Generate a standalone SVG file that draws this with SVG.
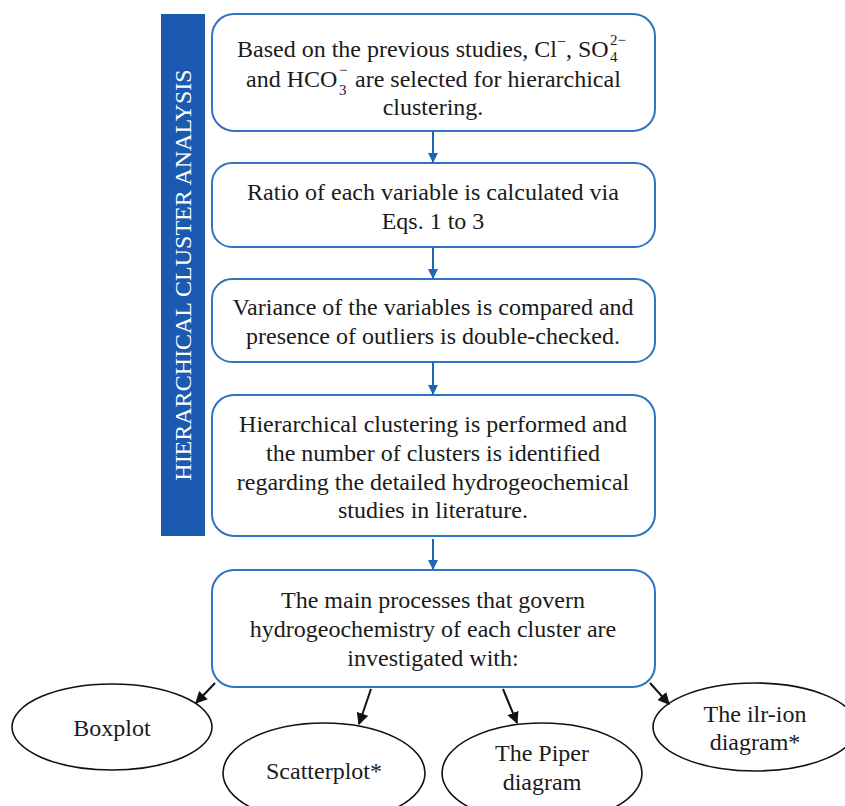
<svg xmlns="http://www.w3.org/2000/svg" width="845" height="806" viewBox="0 0 845 806">
<defs>
<style>
.box{fill:#fff;stroke:#2f74c0;stroke-width:2}
.ell{fill:#fff;stroke:#111;stroke-width:1.6}
.t{font-family:"Liberation Serif","Times New Roman",serif;font-size:24px;fill:#1a1a1a}
.c{text-anchor:middle}
.sc{font-family:"Liberation Serif","Times New Roman",serif;font-size:15px;fill:#1a1a1a}
.ba{stroke:#1f66b3;stroke-width:2;fill:none}
.ka{stroke:#111;stroke-width:2;fill:none}
</style>
<marker id="mb" viewBox="0 0 10 10" refX="9" refY="5" markerWidth="10" markerHeight="10" markerUnits="userSpaceOnUse" orient="auto"><path d="M0,0 L10,5 L0,10 z" fill="#1f66b3"/></marker>
<marker id="mk" viewBox="0 0 10 10" refX="9" refY="5" markerWidth="12" markerHeight="12" markerUnits="userSpaceOnUse" orient="auto"><path d="M0,0 L10,5 L0,10 z" fill="#111"/></marker>
</defs>
<rect width="845" height="806" fill="#fff"/>
<g id="sidebar">
<rect x="161" y="14" width="44" height="522" fill="#1b5aae"/>
<text class="t c" transform="translate(191,275) rotate(-90)" style="fill:#fff">HIERARCHICAL CLUSTER ANALYSIS</text>
</g>
<g id="box1">
<rect class="box" x="212" y="14" width="443" height="117" rx="22"/>
<text class="t" x="237" y="57">Based on the previous studies, Cl<tspan font-size="16" dy="-10">−</tspan><tspan dy="10">, SO</tspan></text>
<text class="sc" x="610" y="45">2−</text>
<text class="sc" x="610" y="62">4</text>
<text class="t" x="246" y="87">and HCO</text>
<text class="sc" x="339" y="75">−</text>
<text class="sc" x="339" y="95">3</text>
<text class="t" x="355" y="87">are selected for hierarchical</text>
<text class="t c" x="433" y="115">clustering.</text>
</g>
<g id="box2">
<rect class="box" x="212" y="163" width="443" height="84" rx="20"/>
<text class="t c" x="433" y="200">Ratio of each variable is calculated via</text>
<text class="t c" x="433" y="229">Eqs. 1 to 3</text>
</g>
<g id="box3">
<rect class="box" x="212" y="279" width="443" height="83" rx="20"/>
<text class="t c" x="433" y="315">Variance of the variables is compared and</text>
<text class="t c" x="433" y="344">presence of outliers is double-checked.</text>
</g>
<g id="box4">
<rect class="box" x="212" y="395" width="443" height="141" rx="22"/>
<text class="t c" x="433" y="432">Hierarchical clustering is performed and</text>
<text class="t c" x="433" y="461">the number of clusters is identified</text>
<text class="t c" x="433" y="490">regarding the detailed hydrogeochemical</text>
<text class="t c" x="433" y="518">studies in literature.</text>
</g>
<g id="box5">
<rect class="box" x="212" y="570" width="443" height="117" rx="22"/>
<text class="t c" x="433" y="608">The main processes that govern</text>
<text class="t c" x="433" y="637">hydrogeochemistry of each cluster are</text>
<text class="t c" x="433" y="666">investigated with:</text>
</g>
<g id="boxplot">
<ellipse class="ell" cx="112" cy="727" rx="100" ry="43"/>
<text class="t c" x="112" y="736">Boxplot</text>
</g>
<g id="scatterplot">
<ellipse class="ell" cx="324" cy="773" rx="101" ry="50"/>
<text class="t c" x="324" y="779">Scatterplot*</text>
</g>
<g id="piper">
<ellipse class="ell" cx="542" cy="773" rx="100" ry="50"/>
<text class="t c" x="542" y="761">The Piper</text>
<text class="t c" x="542" y="790">diagram</text>
</g>
<g id="ilr">
<ellipse class="ell" cx="755" cy="727" rx="102" ry="44"/>
<text class="t c" x="755" y="722">The ilr-ion</text>
<text class="t c" x="755" y="750">diagram*</text>
</g>
<g id="connectors">
<line class="ba" x1="433" y1="131" x2="433" y2="162" marker-end="url(#mb)"/>
<line class="ba" x1="433" y1="247" x2="433" y2="278" marker-end="url(#mb)"/>
<line class="ba" x1="433" y1="362" x2="433" y2="394" marker-end="url(#mb)"/>
<line class="ba" x1="433" y1="539" x2="433" y2="569" marker-end="url(#mb)"/>
<line class="ka" x1="215" y1="683" x2="196" y2="703" marker-end="url(#mk)"/>
<line class="ka" x1="371" y1="689" x2="359" y2="724" marker-end="url(#mk)"/>
<line class="ka" x1="503" y1="689" x2="517" y2="723" marker-end="url(#mk)"/>
<line class="ka" x1="650" y1="683" x2="669" y2="704" marker-end="url(#mk)"/>
</g>
</svg>
